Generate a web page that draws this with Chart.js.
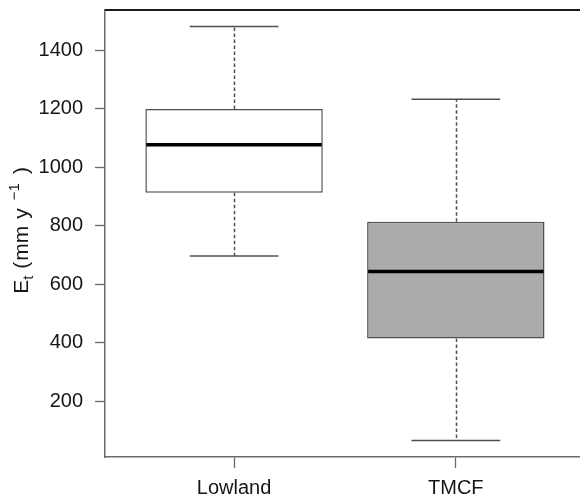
<!DOCTYPE html>
<html>
<head>
<meta charset="utf-8">
<script src="https://cdn.jsdelivr.net/npm/chart.js@4.4.1/dist/chart.umd.min.js"></script>
<style>
  html, body { margin: 0; padding: 0; background: #fff; overflow: hidden; }
</style>
</head>
<body>
<canvas id="boxChart" width="580" height="501"></canvas>
<script>
// Data for the chart
const categories = ['Lowland', 'TMCF'];
const whiskerLow = [697, 66];
const quartile1 = [913, 415];
const medians = [1077, 644];
const quartile3 = [1200, 814];
const whiskerHigh = [1482, 1233];
const yTicks = [200, 400, 600, 800, 1000, 1200, 1400];

const boxFill = ['#ffffff', '#ababab'];
const lineGray = '#505050';
const axisGray = '#6a6a6a';
const textColor = '#161616';
const fontFamily = '"Liberation Sans", Arial, Helvetica, sans-serif';

// whiskers, caps, medians, top frame and the axis title
const boxExtras = {
  id: 'boxExtras',
  afterDatasetsDraw(chart) {
    const ctx = chart.ctx;
    const x = chart.scales.x;
    const y = chart.scales.y;
    const area = chart.chartArea;
    ctx.save();
    categories.forEach((c, i) => {
      const pos = i + 1;
      const cx = Math.round(x.getPixelForValue(pos)) + 0.5;
      const capL = x.getPixelForValue(pos - 0.2);
      const capR = x.getPixelForValue(pos + 0.2);
      const boxL = x.getPixelForValue(pos - 0.4);
      const boxR = x.getPixelForValue(pos + 0.4);

      // dashed whiskers
      ctx.strokeStyle = lineGray;
      ctx.lineWidth = 1.5;
      ctx.setLineDash([3.5, 2.5]);
      ctx.beginPath();
      ctx.moveTo(cx, y.getPixelForValue(quartile3[i]));
      ctx.lineTo(cx, y.getPixelForValue(whiskerHigh[i]));
      ctx.moveTo(cx, y.getPixelForValue(quartile1[i]));
      ctx.lineTo(cx, y.getPixelForValue(whiskerLow[i]));
      ctx.stroke();

      // caps
      ctx.setLineDash([]);
      ctx.lineWidth = 1.5;
      ctx.beginPath();
      ctx.moveTo(capL, y.getPixelForValue(whiskerHigh[i]));
      ctx.lineTo(capR, y.getPixelForValue(whiskerHigh[i]));
      ctx.moveTo(capL, y.getPixelForValue(whiskerLow[i]));
      ctx.lineTo(capR, y.getPixelForValue(whiskerLow[i]));
      ctx.stroke();

      // median
      ctx.strokeStyle = '#000';
      ctx.lineWidth = 3.5;
      ctx.beginPath();
      ctx.moveTo(boxL + 1, y.getPixelForValue(medians[i]));
      ctx.lineTo(boxR - 1, y.getPixelForValue(medians[i]));
      ctx.stroke();
    });

    // top frame line
    ctx.strokeStyle = '#1a1a1a';
    ctx.lineWidth = 2;
    ctx.beginPath();
    ctx.moveTo(area.left, area.top);
    ctx.lineTo(area.right, area.top);
    ctx.stroke();

    // y axis title: E_t (mm y^-1 ), gap = space before the piece
    const parts = [
      { t: 'E', size: 21, dy: 0, gap: 0 },
      { t: 't', size: 15, dy: 5, gap: 0 },
      { t: '(', size: 21, dy: 0, gap: 7 },
      { t: 'mm', size: 21, dy: 0, gap: 1 },
      { t: 'y', size: 21, dy: 0, gap: 7 },
      { t: '\u22121', size: 15, dy: -9, gap: 8 },
      { t: ')', size: 21, dy: 0, gap: 9 }
    ];
    let total = 0;
    parts.forEach(p => {
      ctx.font = p.size + 'px ' + fontFamily;
      p.w = ctx.measureText(p.t).width;
      total += p.w + p.gap;
    });
    ctx.translate(28, (area.top + area.bottom) / 2 - 3);
    ctx.rotate(-Math.PI / 2);
    ctx.fillStyle = textColor;
    ctx.textBaseline = 'alphabetic';
    ctx.textAlign = 'left';
    let px = -total / 2;
    parts.forEach(p => {
      px += p.gap;
      ctx.font = p.size + 'px ' + fontFamily;
      ctx.fillText(p.t, px, p.dy);
      px += p.w;
    });
    ctx.restore();
  }
};

const data = {
  datasets: [{
    label: 'Et',
    data: categories.map((c, i) => ({ x: i + 1, y: [quartile1[i], quartile3[i]] })),
    backgroundColor: boxFill,
    borderColor: lineGray,
    borderWidth: 1.5,
    borderSkipped: false,
    barPercentage: 0.8,
    categoryPercentage: 1.0
  }]
};

const options = {
  responsive: false,
  animation: false,
  layout: { padding: { top: 10, right: 0, bottom: 0, left: 0 } },
  plugins: {
    legend: { display: false },
    tooltip: { enabled: false }
  },
  scales: {
    x: {
      type: 'linear',
      min: 0.418,
      max: 2.56,
      offset: false,
      afterBuildTicks: s => { s.ticks = categories.map((c, i) => ({ value: i + 1 })); },
      afterFit: s => { s.height = 44; s.paddingLeft = 0; s.paddingRight = 0; },
      ticks: {
        callback: v => categories[v - 1],
        font: { family: fontFamily, size: 20 },
        color: textColor,
        padding: 8,
        autoSkip: false,
        maxRotation: 0
      },
      grid: { drawOnChartArea: false, offset: false, tickLength: 11, tickColor: axisGray, tickWidth: 1.3 },
      border: { color: axisGray, width: 1.5 }
    },
    y: {
      min: 10,
      max: 1538,
      afterBuildTicks: s => { s.ticks = yTicks.map(v => ({ value: v })); },
      afterFit: s => { s.width = 105; s.paddingTop = 0; s.paddingBottom = 0; },
      ticks: {
        callback: v => String(v),
        font: { family: fontFamily, size: 20 },
        color: textColor,
        padding: 12
      },
      grid: { drawOnChartArea: false, tickLength: 10, tickColor: axisGray, tickWidth: 1.3 },
      border: { color: axisGray, width: 1.5 }
    }
  }
};

const ctx = document.getElementById('boxChart').getContext('2d');
const boxChart = new Chart(ctx, {
  type: 'bar',
  data: data,
  options: options,
  plugins: [boxExtras]
});
</script>
</body>
</html>
